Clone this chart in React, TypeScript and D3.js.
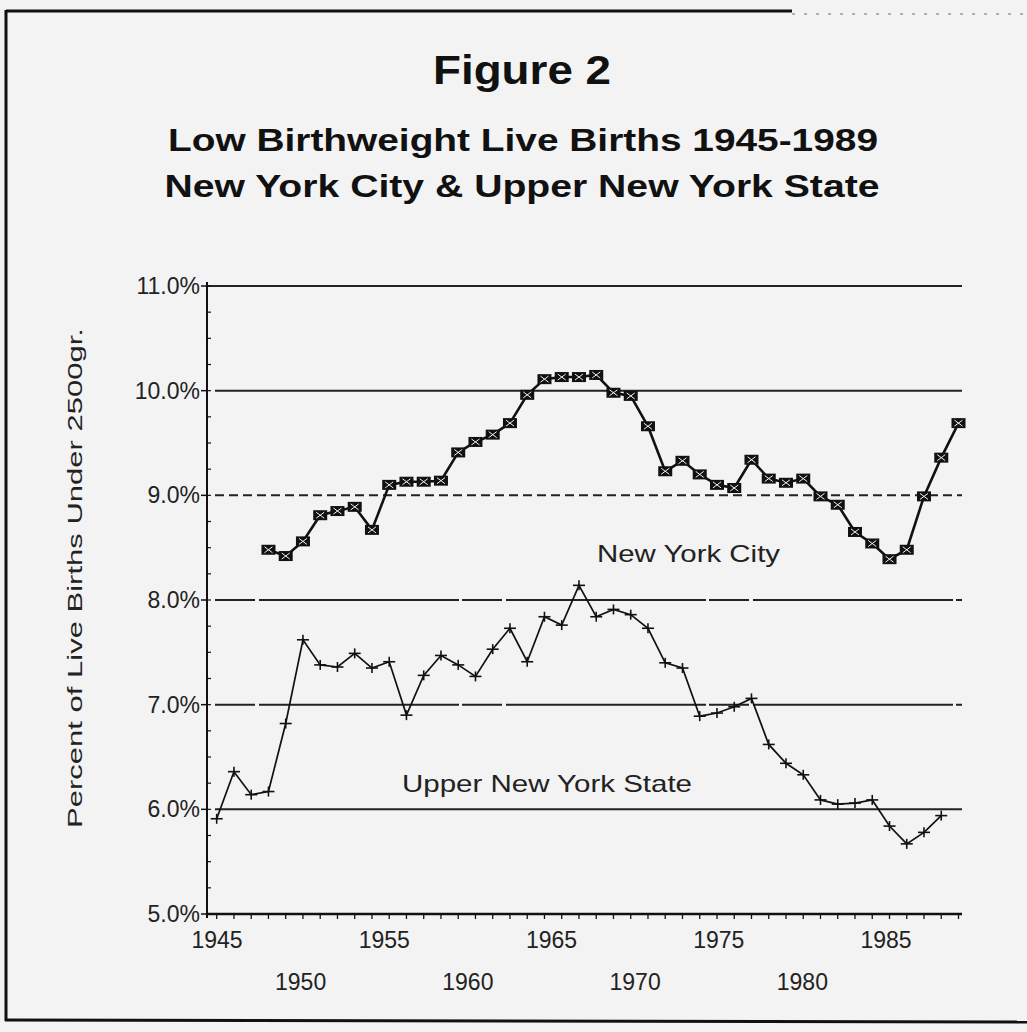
import React from "react";
import * as d3 from "d3";

const nycYears = d3.range(1948, 1989);
const nycValues = [
  8.48, 8.42, 8.56, 8.81, 8.85, 8.89, 8.67, 9.10, 9.13, 9.13, 9.14, 9.41, 9.51, 9.58,
  9.69, 9.96, 10.11, 10.13, 10.13, 10.15, 9.98, 9.95, 9.66, 9.23, 9.33, 9.20, 9.10,
  9.07, 9.34, 9.16, 9.12, 9.16, 8.99, 8.91, 8.65, 8.54, 8.39, 8.48, 8.99, 9.36, 9.69,
];
const upYears = d3.range(1945, 1988);
const upValues = [
  5.91, 6.36, 6.14, 6.17, 6.82, 7.62, 7.38, 7.36, 7.49, 7.35, 7.41, 6.90, 7.28, 7.47,
  7.38, 7.27, 7.53, 7.73, 7.41, 7.84, 7.76, 8.14, 7.84, 7.91, 7.86, 7.73, 7.40, 7.35,
  6.89, 6.92, 6.98, 7.06, 6.62, 6.44, 6.33, 6.09, 6.05, 6.06, 6.09, 5.84, 5.67, 5.78, 5.94,
];
const yTicks = [5, 6, 7, 8, 9, 10, 11];
const xLabelsTop = [1945, 1955, 1965, 1975, 1985];
const xLabelsBottom = [1950, 1960, 1970, 1980];

const W = 1027;
const H = 1032;
const font = "'Liberation Sans', Arial, sans-serif";

export default function App() {
  const x = d3.scaleLinear().domain([1945, 1988]).range([216.7, 958.5]);
  const xLab = d3.scaleLinear().domain([1945, 1985]).range([217, 886]);
  const y = d3.scaleLinear().domain([5, 11]).range([914, 286]);
  const axisX0 = 207;
  const axisX1 = 962;

  const line = d3
    .line<[number, number]>()
    .x((d) => x(d[0]))
    .y((d) => y(d[1]));

  const nyc: [number, number][] = nycYears.map((yr, i) => [yr, nycValues[i]]);
  const up: [number, number][] = upYears.map((yr, i) => [yr, upValues[i]]);

  const minor = d3.range(5, 11.01, 0.25);
  const yearTicks = d3.range(1945, 1989);

  return (
    <svg
      width={W}
      height={H}
      style={{ position: "absolute", left: 0, top: 0, background: "#f3f3f3" }}
    >
      {/* frame */}
      <line x1={6} y1={11} x2={792} y2={11} stroke="#111" strokeWidth={3} />
      <line x1={792} y1={14} x2={1027} y2={14} stroke="#666" strokeWidth={1} strokeDasharray="3 9" />
      <line x1={6} y1={10} x2={6} y2={1021} stroke="#111" strokeWidth={3} />
      <line x1={5} y1={1020} x2={1027} y2={1022} stroke="#111" strokeWidth={3} />

      {/* titles */}
      <text x={522} y={84} textAnchor="middle" fontFamily={font} fontWeight="bold" fontSize={40}
        textLength={178} lengthAdjust="spacingAndGlyphs" fill="#111">Figure 2</text>
      <text x={523} y={151} textAnchor="middle" fontFamily={font} fontWeight="bold" fontSize={31}
        textLength={710} lengthAdjust="spacingAndGlyphs" fill="#111">Low Birthweight Live Births 1945-1989</text>
      <text x={522} y={197} textAnchor="middle" fontFamily={font} fontWeight="bold" fontSize={31}
        textLength={715} lengthAdjust="spacingAndGlyphs" fill="#111">New York City &amp; Upper New York State</text>

      {/* gridlines */}
      {yTicks.filter((t) => t > 5).map((t) => (
        <line key={"g" + t} x1={t === 11 ? axisX0 : 215} x2={axisX1} y1={y(t)} y2={y(t)}
          stroke="#222" strokeWidth={2}
          strokeDasharray={t === 9 ? "9 5" : t === 8 || t === 7 ? "40 4 200 3" : undefined} />
      ))}

      {/* y axis */}
      <line x1={axisX0} x2={axisX0} y1={y(11) - 4} y2={y(5) + 4} stroke="#111" strokeWidth={2} />
      {minor.map((t) => (
        <line key={"m" + t} x1={axisX0} x2={axisX0 + 4} y1={y(t)} y2={y(t)} stroke="#111" strokeWidth={1.2} />
      ))}
      {yTicks.map((t) => (
        <g key={"yt" + t}>
          <line x1={axisX0 - 6} x2={axisX0} y1={y(t)} y2={y(t)} stroke="#111" strokeWidth={1.5} />
          <text x={axisX0 - 7} y={y(t)} dy="0.35em" textAnchor="end" fontFamily={font} fontSize={23}
            fill="#222">{t.toFixed(1) + "%"}</text>
        </g>
      ))}
      <text transform={`translate(${82},${578}) rotate(-90)`} textAnchor="middle" fontFamily={font}
        fontSize={21} fill="#222" textLength={500} lengthAdjust="spacingAndGlyphs">
        Percent of Live Births Under 2500gr.
      </text>

      {/* x axis */}
      <line x1={axisX0} x2={axisX1} y1={y(5)} y2={y(5)} stroke="#111" strokeWidth={2.5} />
      {yearTicks.map((yr) => (
        <line key={"xt" + yr} x1={x(yr)} x2={x(yr)} y1={y(5)} y2={y(5) + 5} stroke="#111" strokeWidth={1.3} />
      ))}
      {xLabelsTop.map((yr) => (
        <text key={"xl" + yr} x={xLab(yr)} y={948} textAnchor="middle" fontFamily={font} fontSize={23}
          fill="#222">{yr}</text>
      ))}
      {xLabelsBottom.map((yr) => (
        <text key={"xb" + yr} x={xLab(yr)} y={990} textAnchor="middle" fontFamily={font} fontSize={23}
          fill="#222">{yr}</text>
      ))}

      {/* Upper NY State */}
      <path d={line(up) || ""} fill="none" stroke="#111" strokeWidth={1.7} />
      {up.map((d) => (
        <g key={"u" + d[0]} transform={`translate(${x(d[0])},${y(d[1])})`} stroke="#111" strokeWidth={1.6}>
          <line x1={-6} x2={6} y1={0} y2={0} />
          <line x1={0} x2={0} y1={-5} y2={5} />
        </g>
      ))}

      {/* New York City */}
      <path d={line(nyc) || ""} fill="none" stroke="#111" strokeWidth={2.6} />
      {nyc.map((d) => (
        <g key={"n" + d[0]} transform={`translate(${x(d[0])},${y(d[1])})`}>
          <rect x={-7} y={-5} width={14} height={10} fill="#111" />
          <path d="M-4,-3L4,3M-4,3L4,-3" stroke="#f3f3f3" strokeWidth={1} />
        </g>
      ))}

      {/* series labels */}
      <text x={597} y={562} fontFamily={font} fontSize={24} fill="#222" textLength={183}
        lengthAdjust="spacingAndGlyphs">New York City</text>
      <text x={402} y={792} fontFamily={font} fontSize={24} fill="#222" textLength={290}
        lengthAdjust="spacingAndGlyphs">Upper New York State</text>
    </svg>
  );
}
